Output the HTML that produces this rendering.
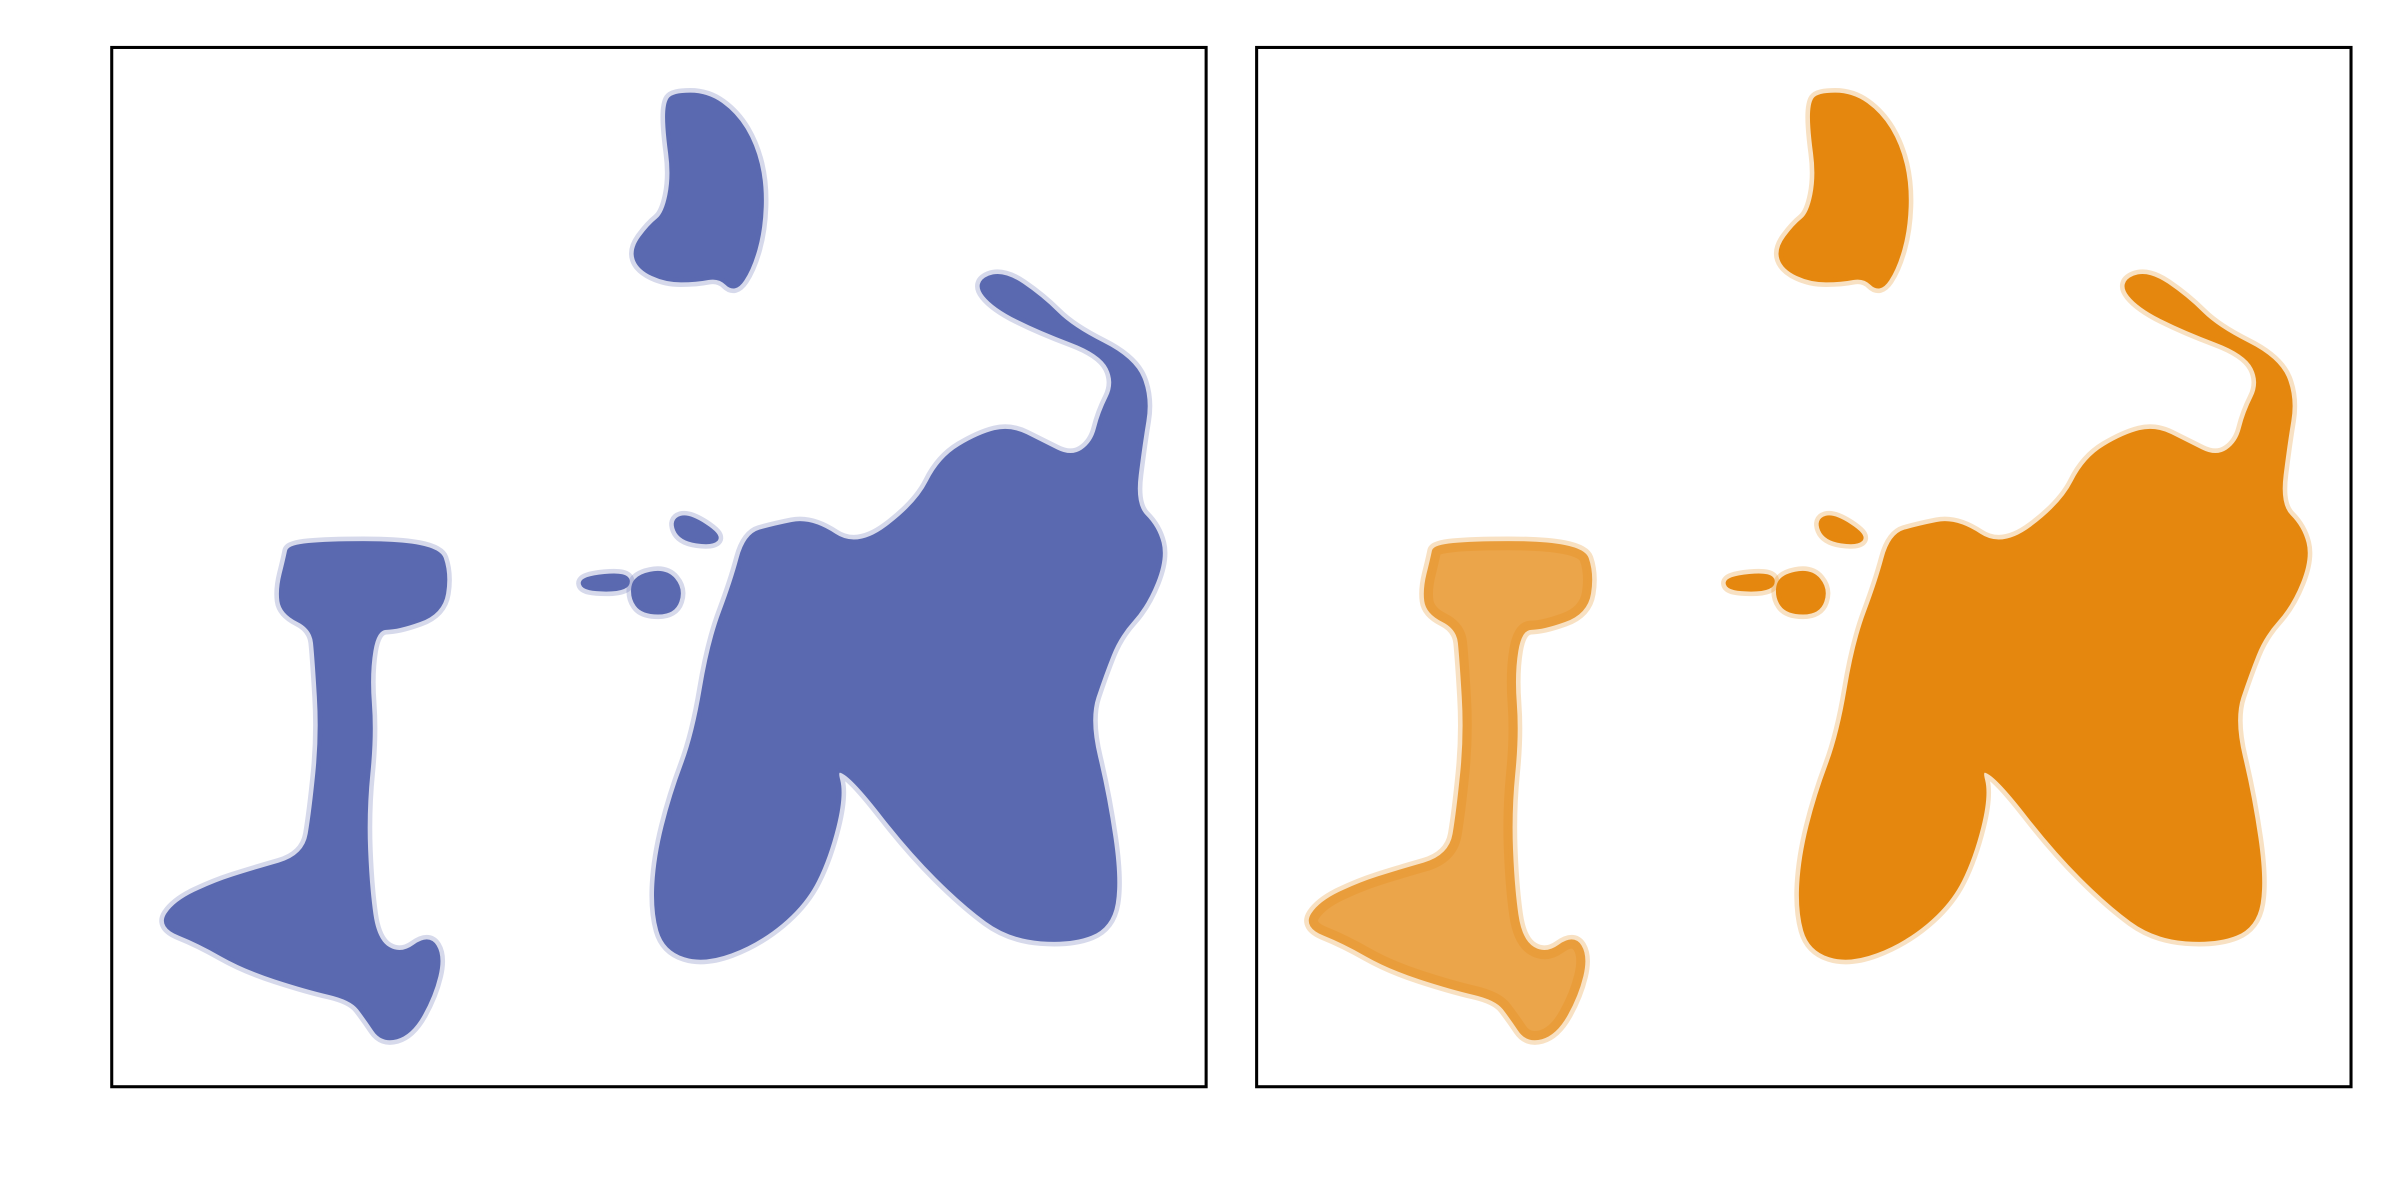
<!DOCTYPE html>
<html><head><meta charset="utf-8"><style>html,body{margin:0;padding:0;background:#fff}svg{display:block}</style></head>
<body>
<svg id="chart" width="2400" height="1200" viewBox="0 0 1568 784" xmlns="http://www.w3.org/2000/svg">
<rect width="1568" height="784" fill="#fff"/>
<g id="p1"></g>
<g id="p2"></g>
</svg>
<script>
// cluster outlines in embedding units (x right, y down, panel-relative)
const clusterNames = ['top-crescent','left-l-shape','main-blob','small-a','small-b','small-c'];
const clusterTop = [[367,31],[389,31],[407,44],[419,64],[425,89],[424,119],[417,144],[407,159],[397,149],[382,152],[362,152],[345,144],[341,132],[352,117],[362,109],[367,84],[363,54],[363,37]];
const clusterLeft = [[117,324],[212,324],[219,344],[215,369],[187,379],[172,379],[167,409],[170,449],[165,499],[167,549],[172,584],[189,594],[207,581],[215,594],[209,619],[195,644],[177,649],[167,634],[157,621],[127,614],[87,601],[57,584],[32,574],[42,559],[67,547],[92,539],[127,529],[132,499],[137,449],[134,399],[132,379],[112,369],[110,354],[115,334]];
const clusterMain = [[357,529],[367,489],[382,449],[392,389],[407,349],[415,319],[432,314],[457,309],[487,329],[527,299],[542,269],[567,254],[587,249],[607,259],[627,269],[642,259],[647,239],[657,219],[647,199],[607,184],[577,169],[565,154],[582,147],[607,164],[627,184],[667,204],[677,229],[672,259],[667,299],[682,314],[687,334],[675,364],[657,384],[647,409],[637,439],[649,489],[657,544],[652,574],[627,584],[587,581],[557,559],[522,524],[487,479],[472,469],[477,489],[467,529],[452,559],[422,584],[387,597],[362,589],[355,564]];
const clusterSmallA = [[367,309],[377,306],[397,319],[392,324],[372,321]];
const clusterSmallB = [[342,346],[362,342],[372,354],[367,369],[347,369],[340,359]];
const clusterSmallC = [[307,347],[337,344],[337,354],[309,354]];
const clusters = [clusterTop,clusterLeft,clusterMain,clusterSmallA,clusterSmallB,clusterSmallC];
const seriesColors = ['#5a69b0','#e5870e'];
const panelOffsets = [0,748];

const NS='http://www.w3.org/2000/svg';
function xScale(v,p){return 73+panelOffsets[p]+v;}
function yScale(v){return 31+v;}
function smoothPath(pts){
  const n=pts.length;
  const mid=(a,b)=>[(a[0]+b[0])/2,(a[1]+b[1])/2];
  let m=mid(pts[n-1],pts[0]);
  let d='M'+m[0]+','+m[1];
  for(let k=0;k<n;k++){
    const c=pts[k], e=mid(pts[k],pts[(k+1)%n]);
    d+='Q'+c[0]+','+c[1]+' '+e[0]+','+e[1];
  }
  return d+'Z';
}
['p1','p2'].forEach((id,p)=>{
  const g=document.getElementById(id);
  clusters.forEach((c,i)=>{
    const pts=c.map(pt=>[xScale(pt[0],p),yScale(pt[1])]);
    const d=smoothPath(pts);
    const halo=document.createElementNS(NS,'path');
    halo.setAttribute('d',d);halo.setAttribute('fill','none');
    halo.setAttribute('stroke',seriesColors[p]);halo.setAttribute('stroke-width','9');
    halo.setAttribute('stroke-linejoin','round');halo.setAttribute('opacity','0.25');
    
    
    g.appendChild(halo);
    const path=document.createElementNS(NS,'path');
    path.setAttribute('d',d);path.setAttribute('fill',seriesColors[p]);
    path.setAttribute('stroke',seriesColors[p]);path.setAttribute('stroke-width','3');
    path.setAttribute('stroke-linejoin','round');
    path.setAttribute('opacity',p===1&&i===1?'0.75':'1');
    
    
    g.appendChild(path);
  });
  const fr=document.createElementNS(NS,'rect');
  fr.setAttribute('x',73+panelOffsets[p]);fr.setAttribute('y',31);
  fr.setAttribute('width',715);fr.setAttribute('height',679);
  fr.setAttribute('fill','none');fr.setAttribute('stroke','#000');fr.setAttribute('stroke-width','2');
  
  
  g.appendChild(fr);
});
</script>
</body></html>
